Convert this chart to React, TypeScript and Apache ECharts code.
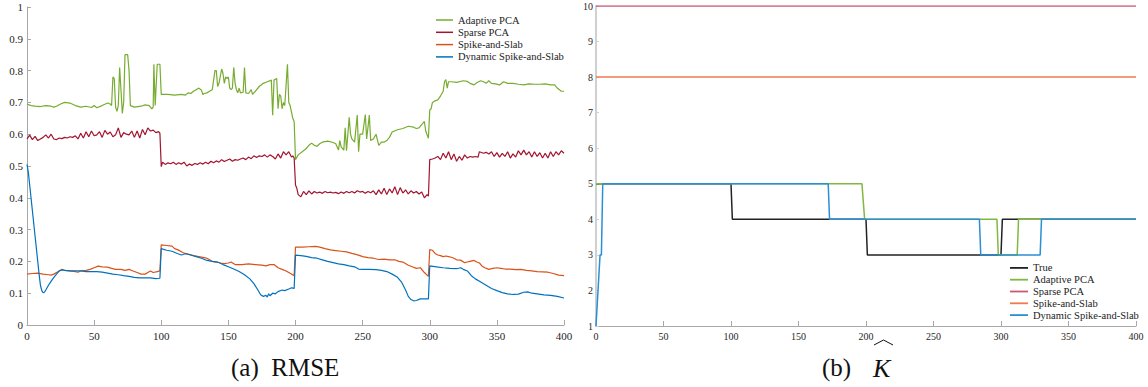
import React, { useEffect, useRef } from "react";
import * as echarts from "echarts";

type P = [number, number];

const seriesNames = ["Adaptive PCA", "Sparse PCA", "Spike-and-Slab", "Dynamic Spike-and-Slab"];
const kNames = ["True", "Adaptive PCA", "Sparse PCA", "Spike-and-Slab", "Dynamic Spike-and-Slab"];
const captionA = "(a)  RMSE";
const captionB = "(b)";
const captionBSymbol = "K";

const adaptiveRmse: P[] = [
  [0, 0.695], [3, 0.69], [6, 0.688], [10, 0.687], [14, 0.69], [18, 0.688], [20, 0.685], [22, 0.688], [25, 0.695], [28, 0.7],
  [32, 0.698], [36, 0.69], [40, 0.685], [44, 0.688], [48, 0.684], [50, 0.69], [52, 0.683], [56, 0.69], [60, 0.698], [62, 0.695],
  [63, 0.69], [64, 0.78], [65, 0.775], [66, 0.685], [67, 0.672], [68, 0.69], [69, 0.81], [70, 0.74], [71, 0.665], [72, 0.7],
  [73, 0.85], [75, 0.85], [76, 0.8], [77, 0.69], [80, 0.685], [85, 0.688], [88, 0.692], [91, 0.69], [93, 0.68], [94, 0.685],
  [94.5, 0.82], [95.5, 0.69], [96, 0.69], [97, 0.82], [99, 0.82], [100, 0.725], [105, 0.725], [110, 0.723], [115, 0.725], [118, 0.723],
  [120, 0.73], [122, 0.728], [124, 0.735], [126, 0.74], [128, 0.745], [130, 0.738], [131, 0.725], [132, 0.728], [134, 0.73], [136, 0.735],
  [138, 0.74], [140, 0.8], [141, 0.8], [142, 0.75], [143, 0.76], [145, 0.805], [146, 0.79], [147, 0.76], [148, 0.78], [149, 0.775],
  [150, 0.78], [151, 0.745], [152, 0.74], [153, 0.745], [154, 0.81], [155, 0.76], [156, 0.74], [157, 0.73], [158, 0.745], [159, 0.73],
  [161, 0.732], [162, 0.81], [163, 0.73], [165, 0.728], [167, 0.74], [168, 0.725], [170, 0.735], [173, 0.75], [176, 0.76], [179, 0.765],
  [182, 0.77], [183, 0.66], [184, 0.77], [186, 0.775], [187, 0.68], [188, 0.725], [189, 0.72], [190, 0.68], [191, 0.7], [192, 0.69],
  [194, 0.82], [195, 0.7], [196, 0.69], [198, 0.65], [199, 0.64], [200, 0.52], [202, 0.535], [205, 0.545], [208, 0.555], [210, 0.565],
  [212, 0.572], [214, 0.565], [216, 0.562], [218, 0.57], [220, 0.575], [224, 0.578], [228, 0.574], [230, 0.57], [232, 0.55], [233, 0.58],
  [234, 0.56], [236, 0.55], [237, 0.62], [238, 0.548], [240, 0.653], [241, 0.6], [242, 0.585], [244, 0.575], [246, 0.66], [247, 0.545],
  [248, 0.6], [250, 0.6], [252, 0.662], [253, 0.585], [255, 0.66], [256, 0.58], [258, 0.585], [260, 0.6], [262, 0.565], [264, 0.575],
  [266, 0.575], [268, 0.58], [270, 0.59], [272, 0.607], [276, 0.614], [280, 0.618], [284, 0.625], [288, 0.622], [290, 0.618], [292, 0.62],
  [294, 0.63], [296, 0.64], [297, 0.61], [299, 0.587], [300, 0.676], [301, 0.68], [302, 0.7], [304, 0.705], [306, 0.708], [308, 0.72],
  [310, 0.735], [311, 0.765], [312, 0.772], [313, 0.745], [314, 0.765], [316, 0.765], [320, 0.763], [325, 0.768], [328, 0.766], [330, 0.76],
  [333, 0.755], [335, 0.762], [338, 0.768], [340, 0.765], [342, 0.76], [344, 0.768], [346, 0.76], [349, 0.758], [352, 0.755], [355, 0.765],
  [358, 0.76], [362, 0.76], [366, 0.757], [370, 0.755], [374, 0.758], [378, 0.757], [382, 0.757], [386, 0.758], [390, 0.755], [393, 0.755],
  [395, 0.745], [398, 0.735], [400, 0.735],
];

const sparseRmse: P[] = [
  [0, 0.585], [2, 0.597], [4, 0.583], [6, 0.593], [8, 0.58], [10, 0.585], [12, 0.59], [14, 0.598], [16, 0.588], [18, 0.6],
  [20, 0.585], [22, 0.583], [24, 0.588], [26, 0.586], [28, 0.59], [30, 0.588], [32, 0.592], [34, 0.59], [36, 0.595], [38, 0.585],
  [40, 0.603], [42, 0.588], [44, 0.608], [46, 0.592], [48, 0.61], [50, 0.595], [52, 0.598], [54, 0.608], [56, 0.59], [58, 0.612],
  [60, 0.6], [62, 0.607], [64, 0.592], [66, 0.598], [68, 0.62], [70, 0.59], [72, 0.605], [74, 0.6], [76, 0.598], [78, 0.61],
  [80, 0.59], [82, 0.61], [84, 0.588], [86, 0.615], [88, 0.598], [90, 0.62], [92, 0.61], [94, 0.613], [96, 0.605], [98, 0.608],
  [99, 0.603], [100, 0.498], [101, 0.512], [103, 0.505], [105, 0.51], [107, 0.507], [109, 0.512], [111, 0.505], [113, 0.51], [115, 0.506],
  [117, 0.512], [119, 0.5], [121, 0.506], [123, 0.502], [125, 0.508], [127, 0.505], [129, 0.51], [131, 0.506], [133, 0.512], [135, 0.507],
  [137, 0.515], [139, 0.51], [141, 0.516], [143, 0.512], [145, 0.52], [147, 0.514], [149, 0.518], [151, 0.522], [153, 0.515], [155, 0.52],
  [157, 0.518], [159, 0.522], [161, 0.525], [163, 0.52], [165, 0.528], [167, 0.523], [169, 0.532], [171, 0.527], [173, 0.532], [175, 0.53],
  [177, 0.535], [179, 0.528], [181, 0.535], [183, 0.53], [185, 0.522], [187, 0.538], [189, 0.525], [191, 0.545], [193, 0.535], [195, 0.545],
  [197, 0.528], [198, 0.532], [199, 0.525], [200, 0.44], [201, 0.43], [202, 0.41], [204, 0.403], [206, 0.42], [208, 0.41], [210, 0.422],
  [212, 0.412], [214, 0.42], [216, 0.415], [218, 0.418], [220, 0.414], [222, 0.42], [224, 0.416], [226, 0.418], [228, 0.415], [230, 0.417],
  [232, 0.413], [234, 0.418], [236, 0.414], [238, 0.42], [240, 0.416], [242, 0.42], [244, 0.415], [246, 0.422], [248, 0.418], [250, 0.42],
  [252, 0.414], [254, 0.42], [256, 0.416], [258, 0.422], [260, 0.41], [262, 0.425], [264, 0.412], [266, 0.43], [268, 0.41], [270, 0.428],
  [272, 0.415], [274, 0.435], [276, 0.41], [278, 0.432], [280, 0.415], [282, 0.425], [284, 0.412], [286, 0.422], [288, 0.415], [290, 0.42],
  [292, 0.412], [294, 0.418], [296, 0.4], [298, 0.41], [299, 0.405], [300, 0.52], [302, 0.522], [304, 0.525], [306, 0.53], [308, 0.52],
  [310, 0.54], [312, 0.525], [314, 0.545], [316, 0.52], [318, 0.538], [320, 0.515], [322, 0.53], [324, 0.518], [326, 0.535], [328, 0.525],
  [330, 0.53], [332, 0.528], [334, 0.53], [336, 0.528], [337, 0.545], [340, 0.54], [342, 0.543], [344, 0.538], [346, 0.545], [348, 0.53],
  [350, 0.542], [352, 0.528], [354, 0.54], [356, 0.53], [358, 0.545], [360, 0.525], [362, 0.538], [364, 0.528], [366, 0.548], [368, 0.535],
  [370, 0.55], [372, 0.535], [374, 0.545], [376, 0.528], [378, 0.545], [380, 0.53], [382, 0.542], [384, 0.525], [386, 0.54], [388, 0.525],
  [390, 0.545], [392, 0.53], [394, 0.545], [396, 0.535], [398, 0.548], [400, 0.54],
];

const spikeRmse: P[] = [
  [0, 0.16], [4, 0.162], [8, 0.163], [12, 0.16], [16, 0.158], [18, 0.157], [20, 0.16], [22, 0.165], [24, 0.17], [26, 0.175],
  [28, 0.172], [32, 0.17], [36, 0.168], [38, 0.166], [40, 0.17], [44, 0.172], [47, 0.175], [50, 0.18], [53, 0.185], [56, 0.183],
  [60, 0.182], [63, 0.178], [66, 0.175], [70, 0.175], [73, 0.172], [76, 0.175], [79, 0.17], [82, 0.165], [85, 0.16], [88, 0.16],
  [90, 0.165], [92, 0.17], [94, 0.165], [97, 0.168], [99, 0.17], [100, 0.252], [104, 0.25], [108, 0.248], [110, 0.24], [112, 0.237],
  [114, 0.233], [116, 0.228], [118, 0.225], [120, 0.223], [124, 0.218], [128, 0.215], [132, 0.212], [134, 0.21], [136, 0.205], [138, 0.2],
  [141, 0.198], [144, 0.195], [147, 0.193], [150, 0.195], [152, 0.198], [155, 0.19], [160, 0.19], [165, 0.192], [170, 0.19], [175, 0.188],
  [178, 0.186], [181, 0.19], [184, 0.19], [187, 0.18], [190, 0.175], [193, 0.17], [196, 0.163], [199, 0.155], [200, 0.245], [205, 0.245],
  [210, 0.246], [215, 0.247], [218, 0.245], [222, 0.24], [226, 0.236], [230, 0.234], [234, 0.232], [238, 0.23], [242, 0.225], [245, 0.222],
  [248, 0.218], [250, 0.215], [254, 0.212], [258, 0.21], [262, 0.206], [266, 0.207], [270, 0.205], [274, 0.205], [277, 0.2], [280, 0.198],
  [284, 0.188], [287, 0.183], [290, 0.178], [293, 0.18], [296, 0.165], [299, 0.153], [300, 0.237], [302, 0.235], [304, 0.225], [306, 0.22],
  [308, 0.218], [310, 0.215], [312, 0.217], [314, 0.215], [316, 0.213], [318, 0.21], [320, 0.205], [323, 0.204], [326, 0.196], [328, 0.198],
  [330, 0.2], [333, 0.203], [335, 0.198], [337, 0.195], [339, 0.185], [341, 0.18], [344, 0.175], [347, 0.178], [350, 0.18], [353, 0.178],
  [356, 0.176], [360, 0.176], [364, 0.174], [368, 0.175], [372, 0.172], [376, 0.17], [380, 0.168], [384, 0.167], [388, 0.166], [392, 0.162],
  [396, 0.157], [400, 0.155],
];

const dynamicRmse: P[] = [
  [0, 0.505], [1, 0.48], [2, 0.44], [3, 0.4], [4, 0.36], [5, 0.32], [6, 0.28], [7, 0.24], [8, 0.2], [9, 0.16],
  [10, 0.125], [11, 0.108], [12, 0.102], [13, 0.103], [14, 0.11], [16, 0.125], [18, 0.138], [20, 0.15], [22, 0.16], [24, 0.17],
  [26, 0.173], [28, 0.172], [32, 0.17], [36, 0.17], [40, 0.17], [44, 0.168], [48, 0.168], [52, 0.168], [56, 0.166], [60, 0.163],
  [64, 0.16], [68, 0.158], [72, 0.155], [76, 0.153], [80, 0.15], [84, 0.148], [88, 0.148], [92, 0.148], [96, 0.146], [99, 0.147],
  [100, 0.24], [104, 0.235], [108, 0.232], [112, 0.225], [115, 0.22], [118, 0.224], [122, 0.22], [126, 0.215], [130, 0.21], [134, 0.203],
  [138, 0.2], [142, 0.198], [146, 0.19], [150, 0.183], [154, 0.176], [158, 0.168], [162, 0.158], [166, 0.145], [169, 0.13], [172, 0.11],
  [174, 0.095], [176, 0.09], [178, 0.093], [179, 0.088], [180, 0.098], [181, 0.092], [183, 0.1], [185, 0.098], [187, 0.105], [190, 0.11],
  [192, 0.108], [195, 0.113], [197, 0.117], [199, 0.115], [200, 0.22], [204, 0.218], [208, 0.216], [212, 0.212], [216, 0.21], [220, 0.205],
  [224, 0.2], [228, 0.196], [232, 0.192], [236, 0.19], [240, 0.186], [244, 0.183], [247, 0.176], [250, 0.175], [255, 0.175], [260, 0.174],
  [264, 0.172], [268, 0.168], [272, 0.16], [276, 0.15], [279, 0.135], [282, 0.11], [284, 0.09], [286, 0.08], [288, 0.076], [290, 0.077],
  [293, 0.082], [296, 0.082], [299, 0.082], [300, 0.186], [305, 0.183], [310, 0.18], [315, 0.178], [320, 0.177], [323, 0.18], [325, 0.175],
  [328, 0.17], [331, 0.155], [334, 0.145], [338, 0.135], [342, 0.125], [346, 0.115], [350, 0.108], [354, 0.102], [358, 0.098], [362, 0.096],
  [366, 0.097], [370, 0.103], [373, 0.104], [376, 0.1], [380, 0.098], [385, 0.095], [390, 0.093], [395, 0.09], [400, 0.085],
];

const trueK: P[] = [[0, 5], [100, 5], [101, 4], [200, 4], [201, 3], [300, 3], [301, 4], [400, 4]];
const adaptiveK: P[] = [[0, 5], [197, 5], [199, 4], [297, 4], [298, 3], [312, 3], [313, 4], [400, 4]];
const sparseK: P[] = [[0, 10], [400, 10]];
const spikeK: P[] = [[0, 8], [400, 8]];
const dynamicK: P[] = [[0, 1], [3, 3], [4, 3], [5, 5], [172, 5], [173, 4], [284, 4], [285, 3], [329, 3], [330, 4], [400, 4]];

const colorsA = ["#77ac30", "#a2142f", "#d95319", "#0072bd"];
const colorsB = ["#222222", "#80b840", "#c85a74", "#f07a4e", "#2a8fd4"];

const FONT = "Liberation Serif";

export default function App() {
  const ref = useRef<HTMLDivElement>(null);
  useEffect(() => {
    if (!ref.current) return;
    const chart = echarts.init(ref.current, undefined, { renderer: "svg" });
    const axisColor = "#a8a8a8";
    const label = (size: number, margin: number) => ({ fontFamily: FONT, fontSize: size, color: "#262626", margin });
    const rmseData = [adaptiveRmse, sparseRmse, spikeRmse, dynamicRmse];
    const kData = [trueK, adaptiveK, sparseK, spikeK, dynamicK];
    const series: any[] = [];
    rmseData.forEach((d, i) => {
      series.push({
        type: "line", name: seriesNames[i], xAxisIndex: 0, yAxisIndex: 0, data: d,
        symbol: "none", itemStyle: { color: colorsA[i] }, lineStyle: { color: colorsA[i], width: 1.2 },
      });
    });
    kData.forEach((d, i) => {
      series.push({
        type: "line", name: kNames[i], xAxisIndex: 1, yAxisIndex: 1, data: d,
        symbol: "none", itemStyle: { color: colorsB[i] }, lineStyle: { color: colorsB[i], width: 1.5 },
      });
    });
    chart.setOption({
      animation: false,
      grid: [
        { left: 27, top: 7, width: 537, height: 318 },
        { left: 596, top: 6, width: 540, height: 320 },
      ],
      xAxis: [
        {
          type: "value", gridIndex: 0, min: 0, max: 400, interval: 50,
          axisLine: { lineStyle: { color: axisColor, width: 1 } },
          axisTick: { inside: true, length: 5, lineStyle: { color: axisColor } },
          axisLabel: label(11, 5), splitLine: { show: false },
        },
        {
          type: "value", gridIndex: 1, min: 0, max: 400, interval: 50,
          axisLine: { lineStyle: { color: axisColor, width: 1 } },
          axisTick: { inside: true, length: 5, lineStyle: { color: axisColor } },
          axisLabel: label(10, 5), splitLine: { show: false },
        },
      ],
      yAxis: [
        {
          type: "value", gridIndex: 0, min: 0, max: 1, interval: 0.1,
          axisLine: { show: true, lineStyle: { color: axisColor, width: 1 } },
          axisTick: { show: true, inside: true, length: 4, lineStyle: { color: axisColor } },
          axisLabel: label(11, 4), splitLine: { show: false },
        },
        {
          type: "value", gridIndex: 1, min: 1, max: 10, interval: 1,
          axisLine: { show: true, lineStyle: { color: "#d0d0d0", width: 2 } },
          axisTick: { show: true, inside: true, length: 3, lineStyle: { color: "#d0d0d0" } },
          axisLabel: label(10, 3), splitLine: { show: false },
        },
      ],
      legend: [
        {
          orient: "vertical", left: 436, top: 14, padding: 0, itemWidth: 17, itemHeight: 1.5, itemGap: 0.3, icon: "rect",
          textStyle: { fontFamily: FONT, fontSize: 10.5, color: "#222", lineHeight: 12 },
          data: seriesNames.map((n, i) => ({ name: n, itemStyle: { color: colorsA[i] } })),
        },
        {
          orient: "vertical", left: 1010, top: 262, padding: 0, itemWidth: 18, itemHeight: 1.8, itemGap: 0, icon: "rect",
          textStyle: { fontFamily: FONT, fontSize: 10.5, color: "#222", lineHeight: 11.8 },
          data: kNames.map((n, i) => ({ name: n, itemStyle: { color: colorsB[i] } })),
        },
      ],
      graphic: [
        {
          type: "text", left: 231, top: 355,
          style: { text: captionA, font: `25px ${FONT}`, fill: "#111" },
        },
        {
          type: "text", left: 822, top: 355,
          style: { text: captionB, font: `25px ${FONT}`, fill: "#111" },
        },
        {
          type: "text", left: 873, top: 355,
          style: { text: captionBSymbol, font: `italic 26px ${FONT}`, fill: "#111" },
        },
        {
          type: "polyline", shape: { points: [[874, 345], [883.5, 340], [893, 345]] },
          style: { stroke: "#111", lineWidth: 1, fill: "none" },
        },
      ],
      series,
    });
    return () => chart.dispose();
  }, []);
  return <div ref={ref} style={{ position: "absolute", left: 0, top: 0, width: 1148, height: 387 }} />;
}
